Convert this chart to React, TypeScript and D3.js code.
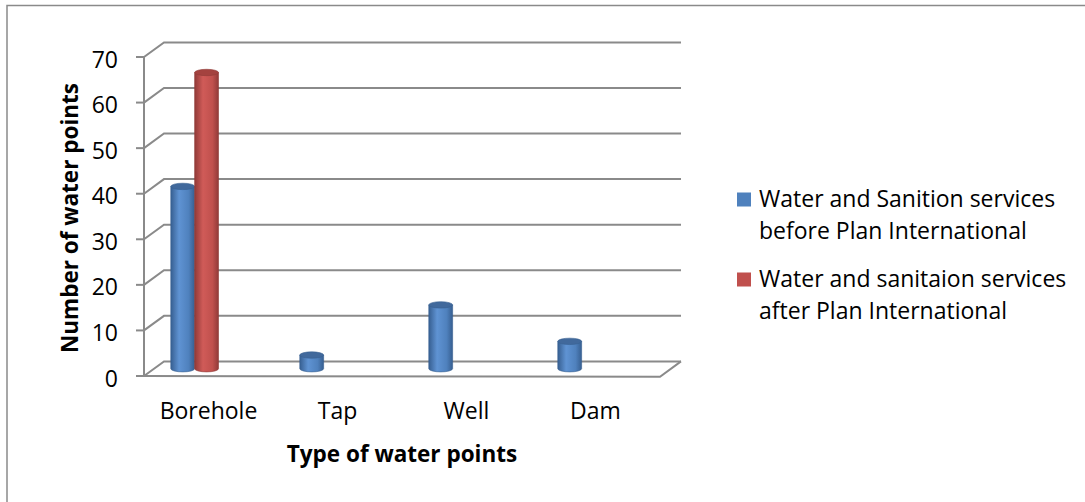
import { useEffect, useRef } from 'react'
import * as d3 from 'd3'

const categories = ['Borehole', 'Tap', 'Well', 'Dam']
const seriesNames = [
  ['Water and Sanition services', 'before Plan International'],
  ['Water and sanitaion services', 'after Plan International'],
]
const beforeValues: (number | null)[] = [40, 3, 14, 6]
const afterValues: (number | null)[] = [65, null, null, null]
const yTicks = [0, 10, 20, 30, 40, 50, 60, 70]

const W = 1085
const H = 502
const FONT = "'Open Sans', 'Noto Sans', sans-serif"
const GRID = '#8a8a8a'

const palettes = [
  { base: '#4f81bd', dark: '#375f91', light: '#5f93d3', cap: '#41699c' },
  { base: '#c0504d', dark: '#913a38', light: '#d05b58', cap: '#a4423f' },
]

export default function App() {
  const svgRef = useRef<SVGSVGElement>(null)

  useEffect(() => {
    const svg = d3.select(svgRef.current)
    svg.selectAll('*').remove()
    svg.attr('width', W).attr('height', H)

    // 3D depth offset of the back wall
    const DX = 20
    const DY = -14.6

    const x = d3.scaleBand<string>().domain(categories).range([144, 660])
    const y = d3.scaleLinear().domain([0, 70]).range([376, 57])

    // outer frame
    svg.append('rect')
      .attr('x', 7).attr('y', 5.5)
      .attr('width', W + 20).attr('height', H + 20)
      .attr('fill', 'none').attr('stroke', GRID).attr('stroke-width', 1.5)

    // gridlines: side wall diagonal + back wall horizontal
    const grid = svg.append('g').attr('fill', 'none').attr('stroke', GRID).attr('stroke-width', 2)
    yTicks.forEach((t) => {
      const y0 = y(t)
      grid.append('path')
        .attr('d', `M144,${y0} L${144 + DX},${y0 + DY} L${660 + DX + 1},${y0 + DY}`)
    })
    // floor
    grid.append('path')
      .attr('d', `M144,${y(0)} L660,${y(0) + 0.7} L${660 + DX + 1},${y(0) + DY}`)
    // vertical axis + ticks
    grid.append('line').attr('x1', 144).attr('x2', 144).attr('y1', y(70)).attr('y2', y(0) + 1)
    yTicks.forEach((t) => {
      grid.append('line').attr('x1', 136).attr('x2', 144).attr('y1', y(t)).attr('y2', y(t))
    })

    // tick labels
    svg.append('g')
      .selectAll('text')
      .data(yTicks)
      .enter()
      .append('text')
      .attr('x', 118)
      .attr('y', (d) => y(d) + 10.5)
      .attr('text-anchor', 'end')
      .style('font-family', FONT)
      .style('font-size', '23px')
      .text((d) => `${d}`)

    // gradients
    const defs = svg.append('defs')
    palettes.forEach((p, i) => {
      const g = defs.append('linearGradient').attr('id', `cyl-${i}`)
        .attr('x1', '0%').attr('x2', '100%').attr('y1', '0%').attr('y2', '0%')
      g.append('stop').attr('offset', '0%').attr('stop-color', p.dark)
      g.append('stop').attr('offset', '35%').attr('stop-color', p.light)
      g.append('stop').attr('offset', '75%').attr('stop-color', p.base)
      g.append('stop').attr('offset', '100%').attr('stop-color', p.dark)
    })

    // bars (cylinders) at mid depth
    const bw = x.bandwidth()
    const series = [beforeValues, afterValues]
    const x1 = d3.scaleBand<number>().domain([0, 1]).range([bw * 0.13, bw * 0.5])
    const ry = 3.2
    const bars = svg.append('g')
    series.forEach((vals, si) => {
      vals.forEach((v, ci) => {
        if (v == null) return
        const left = (x(categories[ci]) ?? 0) + x1(si)! + DX / 2
        const w = x1.bandwidth()
        const rx = w / 2
        const base = y(0) + DY / 2
        const top = y(v) + DY / 2
        const p = palettes[si]
        bars.append('path')
          .attr('d', `M${left},${top} L${left},${base} A${rx},${ry} 0 0 0 ${left + w},${base} L${left + w},${top} Z`)
          .attr('fill', `url(#cyl-${si})`)
          .attr('stroke', p.dark)
          .attr('stroke-width', 0.6)
        bars.append('ellipse')
          .attr('cx', left + rx).attr('cy', top)
          .attr('rx', rx).attr('ry', ry)
          .attr('fill', p.cap)
          .attr('stroke', p.dark)
          .attr('stroke-width', 0.6)
      })
    })

    // category labels
    svg.append('g')
      .selectAll('text')
      .data(categories)
      .enter()
      .append('text')
      .attr('x', (d) => (x(d) ?? 0) + bw / 2)
      .attr('y', 419)
      .attr('text-anchor', 'middle')
      .style('font-family', FONT)
      .style('font-size', '23px')
      .text((d) => d)

    // axis titles
    svg.append('text')
      .attr('x', 402).attr('y', 462)
      .attr('text-anchor', 'middle')
      .style('font-family', FONT)
      .style('font-size', '22.5px')
      .style('font-weight', 'bold')
      .text('Type of water points')

    svg.append('text')
      .attr('transform', 'translate(78,218) rotate(-90)')
      .attr('text-anchor', 'middle')
      .style('font-family', FONT)
      .style('font-size', '22.5px')
      .style('font-weight', 'bold')
      .text('Number of water points')

    // legend
    const legend = svg.append('g')
    seriesNames.forEach((lines, i) => {
      const by = 206.5 + i * 80
      legend.append('rect')
        .attr('x', 737).attr('y', by - 14)
        .attr('width', 14).attr('height', 14)
        .attr('fill', palettes[i].base)
      lines.forEach((ln, j) => {
        legend.append('text')
          .attr('x', 759).attr('y', by + j * 32.5)
          .style('font-family', FONT)
          .style('font-size', '23px')
          .text(ln)
      })
    })
  }, [])

  return (
    <svg ref={svgRef} style={{ position: 'absolute', left: 0, top: 0, background: '#fff' }} />
  )
}
